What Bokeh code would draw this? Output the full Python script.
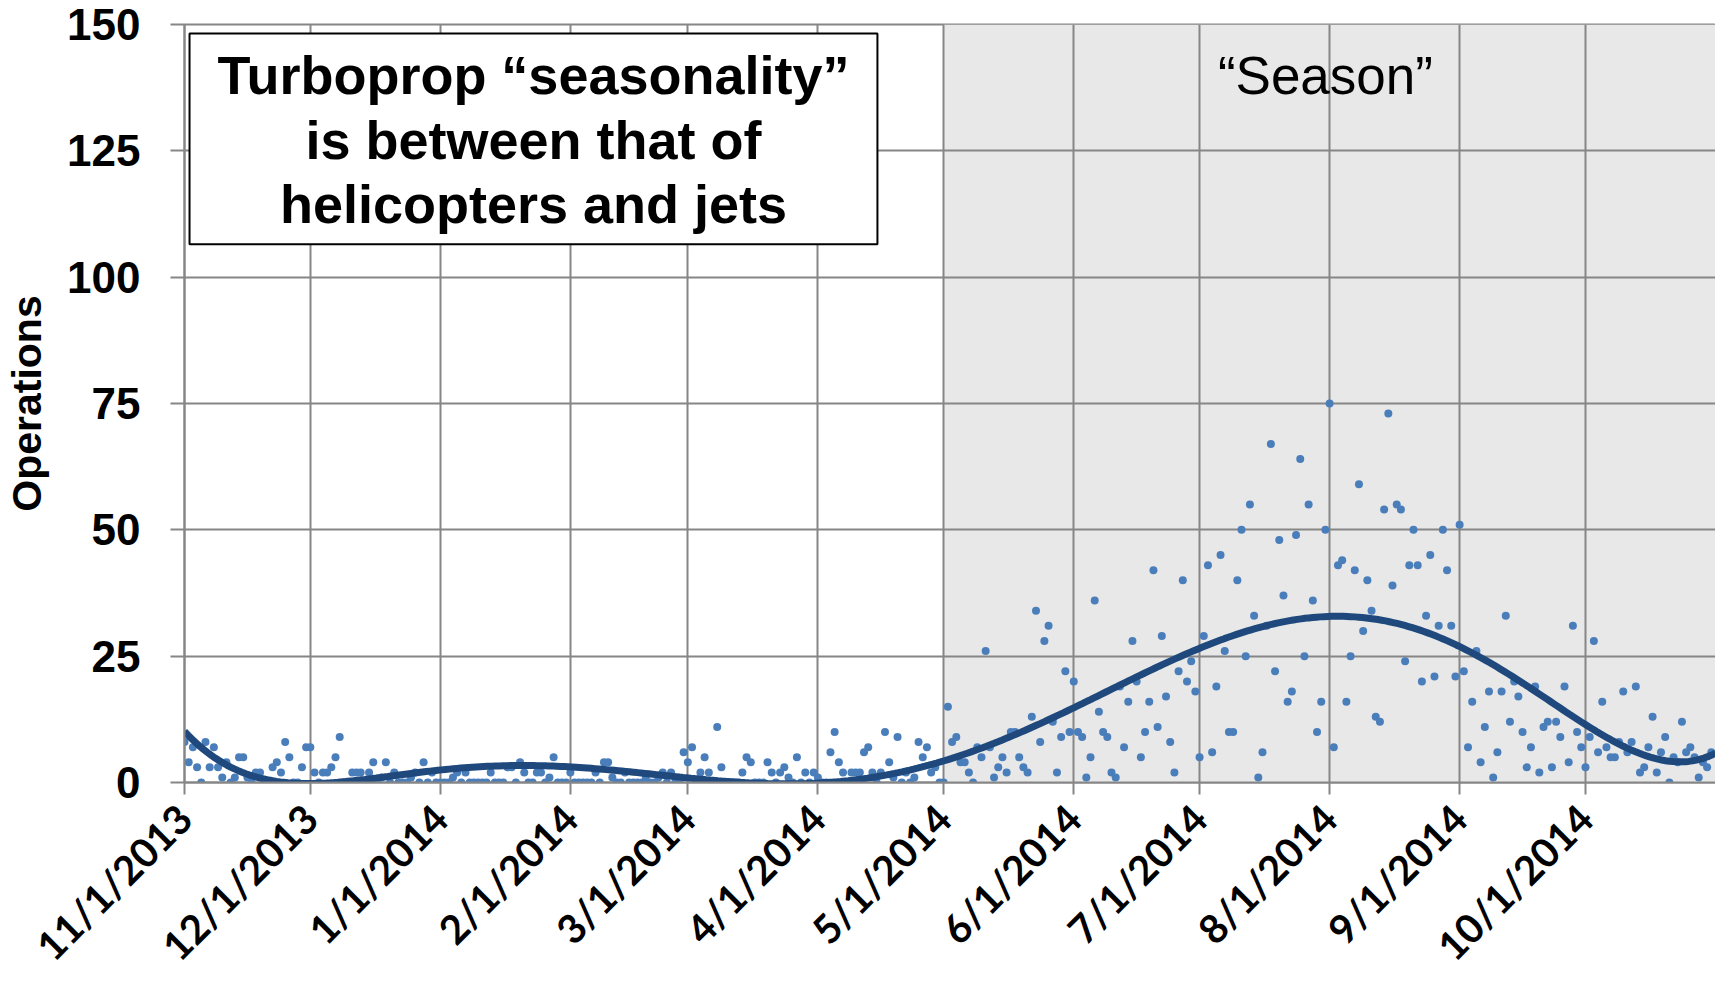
import math
import numpy as np
from bokeh.plotting import figure
from bokeh.models import Range1d, FixedTicker, BoxAnnotation, Label
from bokeh.embed import file_html
from bokeh.resources import INLINE

# ---------------- data ----------------
month_labels = ["11/1/2013", "12/1/2013", "1/1/2014", "2/1/2014", "3/1/2014", "4/1/2014",
                "5/1/2014", "6/1/2014", "7/1/2014", "8/1/2014", "9/1/2014", "10/1/2014"]
month_lengths = [30, 31, 31, 28, 31, 30, 31, 30, 31, 31, 30, 31]

# daily turboprop operations, starting 11/1/2013
nov = [8, 4, 7, 3, 0, 8, 3, 7, 3, 1, 4, 0, 1, 5, 5, 1, 0, 2, 2, 0, 0, 3, 4, 2, 8, 5, 0, 0, 3, 7]
dec = [7, 2, 0, 2, 2, 3, 5, 9, 0, 0, 2, 2, 2, 0, 2, 4, 0, 1, 4, 0, 2, 0, 0, 0, 1, 2, 0, 4, 0, 2, 0]
jan = [0, 0, 0, 1, 2, 0, 2, 0, 0, 0, 0, 0, 2, 0, 0, 0, 3, 3, 0, 4, 2, 0, 0, 2, 2, 0, 1, 5, 0, 0, 0]
feb = [2, 0, 0, 0, 0, 0, 2, 0, 4, 4, 1, 0, 0, 2, 0, 0, 0, 0, 1, 0, 0, 1, 2, 0, 2, 0, 0, 6]
mar = [4, 7, 0, 2, 5, 2, 0, 11, 3, 0, 0, 0, 0, 2, 5, 4, 0, 0, 0, 4, 2, 0, 2, 3, 1, 0, 5, 0, 2, 0, 2]
apr = [1, 0, 0, 6, 10, 4, 2, 0, 2, 2, 2, 6, 7, 2, 0, 2, 10, 4, 1, 9, 0, 2, 0, 1, 8, 5, 7, 2, 3, 0]
may = [0, 15, 8, 9, 4, 4, 2, 0, 7, 5, 26, 7, 1, 3, 5, 2, 10, 10, 5, 3, 2, 13, 34, 8, 28, 31, 12, 2, 9, 22, 10]
jun = [20, 10, 9, 1, 5, 36, 14, 10, 9, 2, 1, 19, 7, 16, 28, 20, 5, 10, 16, 42, 11, 29, 17, 8, 2, 22, 40, 20, 24, 18]
jul = [5, 29, 43, 6, 19, 45, 26, 10, 10, 40, 50, 25, 55, 33, 1, 6, 31, 67, 22, 48, 37, 16, 18, 49, 64, 25, 55, 36, 10, 16, 50]
aug = [75, 7, 43, 44, 16, 25, 42, 59, 30, 40, 34, 13, 12, 54, 73, 39, 55, 54, 24, 43, 50, 43, 20, 33, 45, 21, 31, 50, 42, 31, 21]
sep = [51, 22, 7, 16, 26, 4, 11, 18, 1, 6, 18, 33, 12, 20, 17, 10, 3, 7, 19, 2, 11, 12, 3, 12, 9, 19, 4, 31, 10, 7]
oct_ = [3, 9, 28, 6, 16, 7, 5, 5, 8, 18, 6, 8, 19, 2, 3, 7, 13, 2, 6, 9, 0, 5, 4, 12, 6, 7, 5, 1, 4, 3, 6]

y_ticks = [0, 25, 50, 75, 100, 125, 150]
season_month = "5/1/2014"

# ---------------- derived ----------------
operations = nov + dec + jan + feb + mar + apr + may + jun + jul + aug + sep + oct_
days = np.arange(len(operations))
month_starts = [int(v) for v in np.concatenate([[0], np.cumsum(month_lengths)[:-1]])]
x_end = int(np.sum(month_lengths))
season_start = month_starts[month_labels.index(season_month)]

# 6th order polynomial trend (as in the spreadsheet trendline)
xs = days / x_end
coef = np.polyfit(xs, np.array(operations, dtype=float), 6)
trend_x = np.linspace(0, x_end, 400)
trend_y = np.polyval(coef, trend_x / x_end)

GRID = "#868686"

p = figure(width=1715, height=990, output_backend="svg", toolbar_location=None,
           x_range=Range1d(0, x_end), y_range=Range1d(0, 150),
           min_border_left=184, min_border_right=0, min_border_top=24, min_border_bottom=208)
p.background_fill_color = "white"
p.border_fill_color = "white"
p.outline_line_color = GRID
p.outline_line_width = 2

# season shading
p.add_layout(BoxAnnotation(left=season_start, right=x_end, fill_color="#e8e8e8",
                           fill_alpha=1.0, line_color=None, level="image"))

p.xaxis.ticker = FixedTicker(ticks=month_starts)
p.xaxis.major_label_overrides = {m: lab for m, lab in zip(month_starts, month_labels)}
p.xgrid.ticker = FixedTicker(ticks=month_starts)
p.yaxis.ticker = FixedTicker(ticks=y_ticks)
p.ygrid.ticker = FixedTicker(ticks=y_ticks)

for g in (p.xgrid, p.ygrid):
    g.grid_line_color = GRID
    g.grid_line_width = 2
    g.level = "underlay"

p.xaxis.axis_line_color = GRID
p.xaxis.axis_line_width = 2
p.xaxis.major_tick_line_color = GRID
p.xaxis.major_tick_line_width = 2
p.xaxis.major_tick_in = 0
p.xaxis.major_tick_out = 12
p.xaxis.minor_tick_line_color = None
p.xaxis.major_label_orientation = math.pi / 4
p.xaxis.major_label_standoff = 17
p.xaxis.major_label_text_font = "Lato"
p.xaxis.major_label_text_font_style = "bold"
p.xaxis.major_label_text_font_size = "40px"
p.xaxis.major_label_text_color = "black"

p.yaxis.axis_line_color = GRID
p.yaxis.axis_line_width = 2
p.yaxis.major_tick_line_color = GRID
p.yaxis.major_tick_line_width = 2
p.yaxis.major_tick_in = 0
p.yaxis.major_tick_out = 14
p.yaxis.minor_tick_line_color = None
p.yaxis.major_label_standoff = 30
p.yaxis.major_label_text_font = "Liberation Sans"
p.yaxis.major_label_text_font_style = "bold"
p.yaxis.major_label_text_font_size = "44px"
p.yaxis.major_label_text_color = "black"
p.yaxis.axis_label = "Operations"
p.yaxis.axis_label_text_font = "Liberation Sans"
p.yaxis.axis_label_text_font_style = "bold"
p.yaxis.axis_label_text_font_size = "41px"
p.yaxis.axis_label_standoff = 14
p.yaxis.axis_label_text_color = "black"

p.scatter(days, operations, size=8, color="#4a7ebb", line_color=None)
p.line(trend_x, trend_y, line_color="#1f497d", line_width=7)

# text box
p.add_layout(BoxAnnotation(left=1.2, right=165.2, bottom=106.5, top=148.2,
                           fill_color="white", fill_alpha=1.0,
                           line_color="black", line_alpha=1.0, line_width=2))
box_lines = ["Turboprop \u201cseasonality\u201d", "is between that of", "helicopters and jets"]
for txt, yy in zip(box_lines, [140.1, 127.1, 114.4]):
    p.add_layout(Label(x=83.2, y=yy, text=txt, text_align="center", text_baseline="middle",
                       text_font="Liberation Sans", text_font_style="bold",
                       text_font_size="54px", text_color="black"))

p.add_layout(Label(x=272, y=140, text="\u201cSeason\u201d", text_align="center",
                   text_baseline="middle", text_font="Liberation Sans",
                   text_font_size="53px", text_color="black"))

open("out.html", "w").write(file_html(p, INLINE, title="Turboprop seasonality"))
